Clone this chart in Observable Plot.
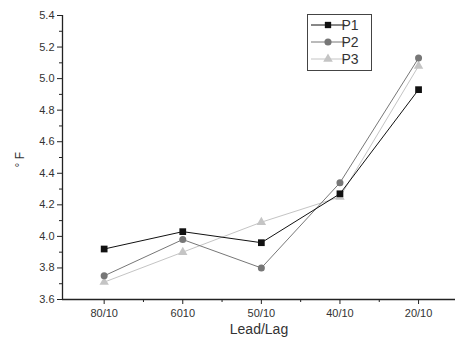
<!DOCTYPE html>
<html><head><meta charset="utf-8">
<script src="https://cdn.jsdelivr.net/npm/d3@7"></script>
<script src="https://cdn.jsdelivr.net/npm/@observablehq/plot@0.6"></script>
<style>
body{margin:0;background:#fff;}
#chart{width:456px;height:343px;}
svg{font-family:"Liberation Sans",Arial,sans-serif;}
</style></head>
<body><div id="chart"></div>
<script>
const categories = ["80/10","6010","50/10","40/10","20/10"];
const p1 = [3.92, 4.03, 3.96, 4.27, 4.93];
const p2 = [3.75, 3.98, 3.80, 4.34, 5.13];
const p3 = [3.71, 3.90, 4.09, 4.25, 5.08];
const yMajorTicks = [3.6,3.8,4.0,4.2,4.4,4.6,4.8,5.0,5.2,5.4];
const yMinorTicks = [3.7,3.9,4.1,4.3,4.5,4.7,4.9,5.1,5.3];
const xMinorTicks = [0.5,1.5,2.5,3.5];
const seriesNames = ["P1","P2","P3"];

const data = [];
[p1,p2,p3].forEach((arr,si)=>arr.forEach((v,i)=>data.push({series:seriesNames[si], i, v})));

const colors = {P1:"#111", P2:"#777", P3:"#c4c4c4"};
const ser = s => data.filter(d=>d.series===s);

const plot = Plot.plot({
  width:456, height:343,
  marginLeft:62, marginTop:15, marginBottom:44, marginRight:1,
  style:{fontFamily:"Liberation Sans, Arial, sans-serif", color:"#333", background:"#fff"},
  x:{domain:[-0.53,4.47], axis:null},
  y:{domain:[3.6,5.4], axis:null},
  marks:[
    // axes lines
    Plot.ruleY([3.6],{stroke:"#222", strokeWidth:1.3}),
    Plot.ruleX([-0.53],{stroke:"#222", strokeWidth:1.3}),
    Plot.axisY(yMajorTicks,{tickSize:5, tickFormat:d=>d.toFixed(1), fontSize:11, label:null, stroke:"#222", fill:"#333", tickPadding:3}),
    Plot.axisY(yMinorTicks,{tickSize:3, tickFormat:()=>"", label:null, stroke:"#222"}),
    Plot.axisX([0,1,2,3,4],{tickSize:5, tickFormat:i=>categories[i], fontSize:11, label:null, stroke:"#222", fill:"#333", tickPadding:5}),
    Plot.axisX(xMinorTicks,{tickSize:3, tickFormat:()=>"", label:null, stroke:"#222"}),
    // lines
    Plot.line(ser("P3"),{x:"i", y:"v", stroke:colors.P3, strokeWidth:1}),
    Plot.line(ser("P2"),{x:"i", y:"v", stroke:colors.P2, strokeWidth:1}),
    Plot.line(ser("P1"),{x:"i", y:"v", stroke:colors.P1, strokeWidth:1}),
    Plot.dot(ser("P3"),{x:"i", y:"v", symbol:"triangle", r:3.5, fill:colors.P3, stroke:"none"}),
    Plot.dot(ser("P2"),{x:"i", y:"v", symbol:"circle", r:3.5, fill:colors.P2, stroke:"none"}),
    Plot.dot(ser("P1"),{x:"i", y:"v", symbol:"square", r:3.8, fill:colors.P1, stroke:"none"}),
    // axis titles
    Plot.text(["Lead/Lag"],{frameAnchor:"bottom", dy:34, fontSize:14, fill:"#333"}),
    Plot.text(["° F"],{frameAnchor:"left", dx:-42, dy:10, rotate:-90, fontSize:12, fill:"#333"})
  ]
});
document.getElementById("chart").appendChild(plot);

// legend
const svg = d3.select(plot);
const lg = svg.append("g");
lg.append("rect").attr("x",307.5).attr("y",14.5).attr("width",64).attr("height",56)
  .attr("fill","#fff").attr("stroke","#444").attr("stroke-width",1);
const syms = {P1:d3.symbolSquare, P2:d3.symbolCircle, P3:d3.symbolTriangle};
seriesNames.forEach((s,k)=>{
  const y = 25 + k*17;
  lg.append("line").attr("x1",311).attr("x2",345).attr("y1",y).attr("y2",y).attr("stroke",colors[s]).attr("stroke-width",1);
  lg.append("path").attr("d",d3.symbol(syms[s], 40)()).attr("transform",`translate(328,${y})`).attr("fill",colors[s]);
  lg.append("text").attr("x",350).attr("y",y).attr("dy","0.36em").attr("font-size",14).attr("fill","#333").text(s);
});
</script></body></html>
